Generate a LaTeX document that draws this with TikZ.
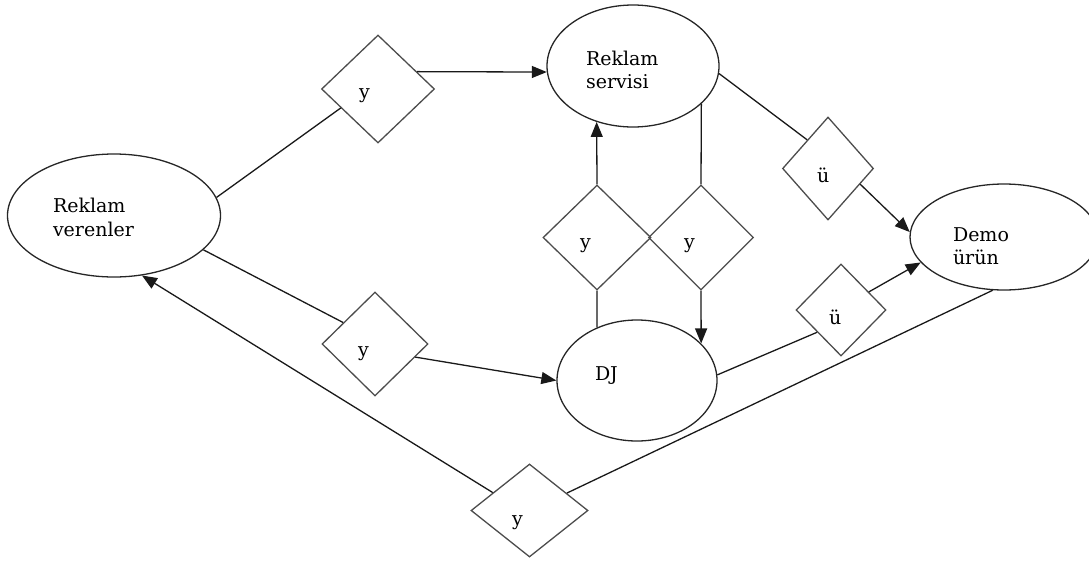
\documentclass[tikz,border=0pt]{standalone}
\usepackage{fontspec}
\setmainfont{DejaVu Serif}
\usetikzlibrary{shapes.geometric,arrows.meta}

\tikzset{
every picture/.style={
line width=1.3pt
},
ent/.style={ellipse, draw=black!85, inner sep=0pt, align=left,
  font=\fontsize{19}{23.5}\selectfont, text height=10pt},
rel/.style={diamond, draw=black!70, inner sep=0pt, align=left,
  font=\fontsize{19}{23.5}\selectfont, text depth=0pt, text height=#1},
link/.style={draw=black!90},
flow/.style={draw=black!90, -{Triangle[length=15pt,width=12pt]}}
}

\begin{document}
\begin{tikzpicture}[x=1pt, y=-1pt]
      \useasboundingbox (0,0) rectangle (1089,560);
      % varliklar
      \node[ent, minimum width=213pt, minimum height=123pt, text width=122pt,
        text depth=16pt] (rv) at (114,215.5) {Reklam\\verenler};
      \node[ent, minimum width=172pt, minimum height=122pt, text width=94pt,
        text depth=12pt] (rs) at (633,66) {Reklam\\servisi};
      \node[ent, minimum width=160pt, minimum height=121pt, text width=84pt,
        text depth=11pt] (dj) at (637,380.5) {DJ};
      \node[ent, minimum width=188pt, minimum height=106pt, text width=102pt,
        text depth=2pt] (demo) at (1004,237) {Demo\\ürün};
      % iliskiler
      \node[rel=18pt, minimum width=113pt, minimum height=108pt,
        text width=38pt] (y1) at (378,89) {y};
      \node[rel=25pt, minimum width=106pt, minimum height=104pt,
        text width=34pt] (y2) at (375,344) {y};
      \node[rel=22pt, minimum width=108pt, minimum height=105pt,
        text width=34pt] (y3) at (597,237.5) {y};
      \node[rel=22pt, minimum width=105pt, minimum height=105pt,
        text width=34pt] (y4) at (701,237.5) {y};
      \node[rel=29pt, minimum width=117pt, minimum height=93pt,
        text width=35pt] (y5) at (529.5,510.5) {y};
      \node[rel=28pt, minimum width=91pt, minimum height=103pt,
        text width=22pt] (u1) at (828,168.5) {ü};
      \node[rel=28pt, minimum width=90pt, minimum height=92pt,
        text width=24pt] (u2) at (841,310) {ü};
      % baglantilar
      \draw[link] (rv.10) -- (y1.207);
      \draw[flow] (y1.24) -- (rs.184);
      \draw[link] (rv.339) -- (y2.146);
      \draw[flow] (y2.342) -- (dj.180);
      \draw[link] (rs.355) -- (u1.126);
      \draw[flow] (u1.334) -- (demo.177);
      \draw[link] (dj.4) -- (u2.223);
      \draw[flow] (u2.33) -- (demo.197);
      \draw[link] (demo.258) -- (y5.25);
      \draw[flow] (y5.154) -- (rv.295);
      \draw[link] (dj.127) -- (y3.south);
      \draw[flow] (y3.north) -- (rs.237);
      \draw[link] (rs.331) -- (y4.north);
      \draw[flow] (y4.south) -- (dj.30);
    \end{tikzpicture}
\end{document}
